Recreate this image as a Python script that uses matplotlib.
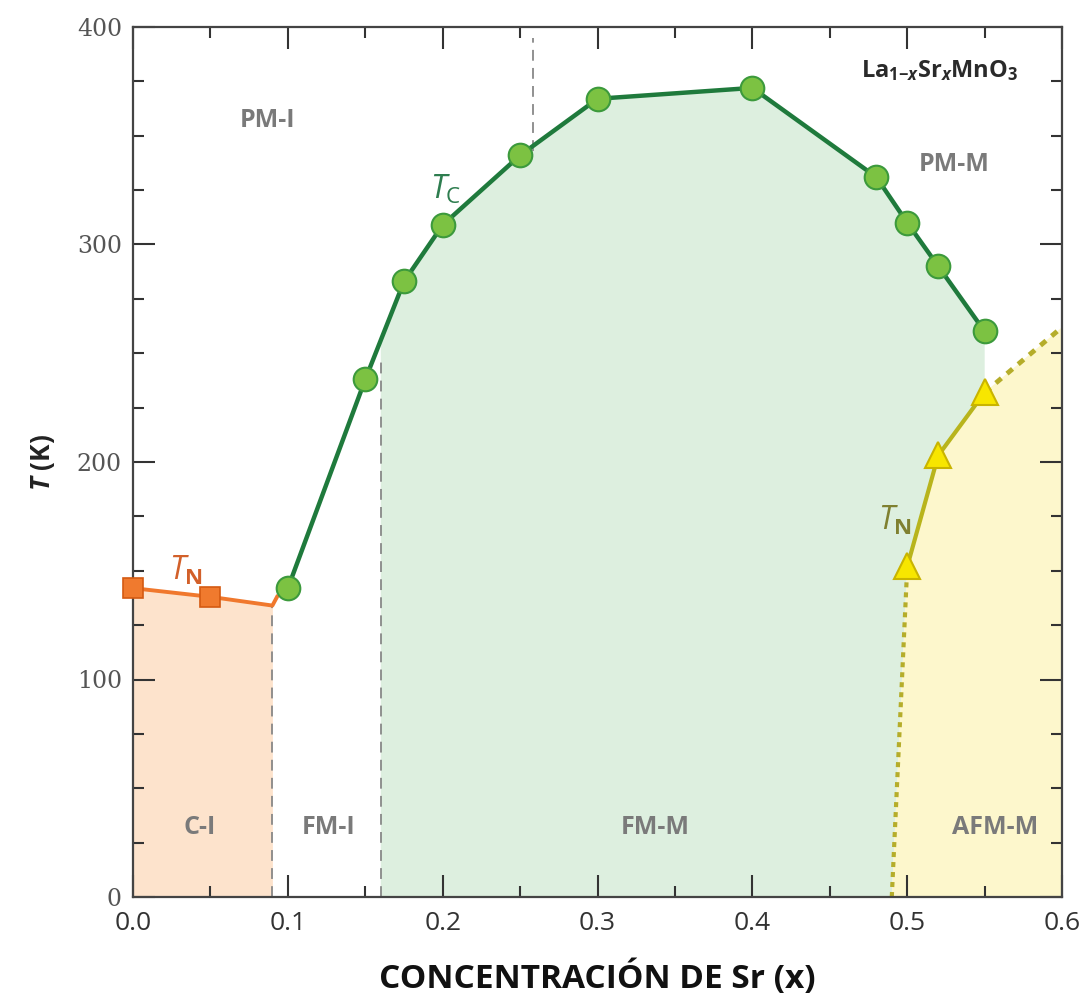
import numpy as np
import matplotlib
matplotlib.use("Agg")
import matplotlib.pyplot as plt
from matplotlib.ticker import MultipleLocator

plt.rcParams['font.family'] = ['Open Sans', 'DejaVu Sans']
plt.rcParams['mathtext.fontset'] = 'custom'
plt.rcParams['mathtext.rm'] = 'Open Sans'
plt.rcParams['mathtext.it'] = 'Open Sans:italic'
plt.rcParams['mathtext.bf'] = 'Open Sans:bold'
plt.rcParams['mathtext.bfit'] = 'Open Sans:bold:italic'

# Curie temperature (FM transition)
tc_x = [0.10, 0.15, 0.175, 0.20, 0.25, 0.30, 0.40, 0.48, 0.50, 0.52, 0.55]
tc_y = [142, 238, 283, 309, 341, 367, 372, 331, 310, 290, 260]

# Neel temperature, canted insulator side
tn_ci_x = [0.0, 0.05]
tn_ci_y = [142, 138]
tn_ci_line_x = [0.0, 0.05, 0.09]
tn_ci_line_y = [142, 138, 134]

# Neel temperature, AFM metal side
tn_afm_x = [0.50, 0.52, 0.55]
tn_afm_y = [152, 203, 232]
afm_low_x = [0.49, 0.50]
afm_low_y = [0, 152]
afm_high_x = [0.55, 0.60]
afm_high_y = [232, 262]

# phase boundaries (dashed)
ci_edge = 0.09
fmi_edge = 0.16
pmi_edge_x = 0.258
pmi_edge_y = [343, 395]

fig = plt.figure(figsize=(10.86, 10), dpi=100)
ax = fig.add_axes([0.1225, 0.103, 0.8555, 0.87])

# regions
ax.fill_between(tn_ci_line_x, 0, tn_ci_line_y, color='#fde3cc', lw=0, zorder=0)

tc_at_edge = np.interp(fmi_edge, tc_x, tc_y)
gx = [fmi_edge, fmi_edge] + [x for x in tc_x if x > fmi_edge] + tn_afm_x[::-1] + [afm_low_x[0]]
gy = [0, tc_at_edge] + [y for x, y in zip(tc_x, tc_y) if x > fmi_edge] + tn_afm_y[::-1] + [afm_low_y[0]]
ax.fill(gx, gy, color='#ddefdf', lw=0, zorder=0)

yx = afm_low_x + tn_afm_x[1:] + afm_high_x[1:] + [afm_high_x[-1]]
yy = afm_low_y + tn_afm_y[1:] + afm_high_y[1:] + [0]
ax.fill(yx, yy, color='#fdf7cc', lw=0, zorder=0)

# dashed boundaries
ax.plot([ci_edge, ci_edge], [0, tn_ci_line_y[-1]], color='#888888', lw=1.3, ls=(0, (6, 4)), zorder=1)
ax.plot([fmi_edge, fmi_edge], [0, tc_at_edge - 10], color='#888888', lw=1.3, ls=(0, (6, 4)), zorder=1)
ax.plot([pmi_edge_x, pmi_edge_x], pmi_edge_y, color='#888888', lw=1.3, ls=(0, (6, 4)), zorder=1)

# curves
ax.plot(tn_ci_line_x + [0.093], tn_ci_line_y + [138], color='#f0782d', lw=2.8, zorder=2)
ax.plot(tn_ci_x, tn_ci_y, ls='none', marker='s', ms=15, mfc='#f07a2e', mec='#d45a12', mew=1.2, zorder=4, clip_on=False)

ax.plot(tc_x, tc_y, color='#1f7a3c', lw=3.2, zorder=3)
ax.plot(tc_x, tc_y, ls='none', marker='o', ms=17, mfc='#7cc242', mec='#3c9a3c', mew=1.5, zorder=4)

ax.plot(afm_low_x, afm_low_y, color='#b5ad2a', lw=3, ls=(0, (1.2, 1.2)), zorder=2)
ax.plot(afm_high_x, afm_high_y, color='#b5ad2a', lw=3.5, ls=(0, (1.5, 1.5)), zorder=2)
ax.plot(tn_afm_x, tn_afm_y, color='#b8b41c', lw=3, zorder=3)
ax.plot(tn_afm_x, tn_afm_y, ls='none', marker='^', ms=19, mfc='#f7e600', mec='#c9b400', mew=1.5, zorder=4)

# labels
gray = '#7a7a7a'
for x, y, s in [(0.087, 357, 'PM-I'), (0.530, 337, 'PM-M'), (0.043, 32, 'C-I'),
                (0.126, 32, 'FM-I'), (0.337, 32, 'FM-M'), (0.557, 32, 'AFM-M')]:
    ax.text(x, y, s, color=gray, fontsize=18, fontweight='bold', ha='center', va='center')

ax.text(0.202, 325, r'$\mathit{T}_{\mathrm{C}}$', color='#2e7d4f', fontsize=23, ha='center', va='center')
ax.text(0.034, 150, r'$\mathit{T}_{\mathbf{N}}$', color='#d2602a', fontsize=23, ha='center', va='center')
ax.text(0.492, 173, r'$\mathit{T}_{\mathbf{N}}$', color='#7f8030', fontsize=23, ha='center', va='center')
ax.text(0.521, 380, r'$\mathbf{La}_{\mathbf{1{-}}\mathbfit{x}}\mathbf{Sr}_{\mathbfit{x}}\mathbf{MnO}_{\mathbf{3}}$',
        color='#2a2a2a', fontsize=17, ha='center', va='center')

ax.set_xlim(0, 0.6)
ax.set_ylim(0, 400)
ax.xaxis.set_major_locator(MultipleLocator(0.1))
ax.xaxis.set_minor_locator(MultipleLocator(0.05))
ax.yaxis.set_major_locator(MultipleLocator(100))
ax.yaxis.set_minor_locator(MultipleLocator(25))
ax.set_xticklabels([f'{v:.1f}' for v in ax.get_xticks()])

ax.tick_params(which='both', direction='in', top=True, right=True, color='#333333', width=1.5)
ax.tick_params(which='major', length=16)
ax.tick_params(which='minor', length=8)
ax.tick_params(axis='x', labelsize=19, labelcolor='#333333', pad=10)
ax.tick_params(axis='y', labelsize=17, labelcolor='#555555', pad=8)
for lab in ax.get_yticklabels():
    lab.set_family('DejaVu Serif')

for sp in ax.spines.values():
    sp.set_color('#444444')
    sp.set_linewidth(1.6)

ax.set_xlabel('CONCENTRACIÓN DE Sr (x)', fontsize=24, fontweight='bold', color='#111111', labelpad=18)
ax.set_ylabel(r'$\mathbfit{T}$ (K)', fontsize=19, fontweight='bold', color='#222222', labelpad=14)

fig.savefig('out.png', dpi=100)
